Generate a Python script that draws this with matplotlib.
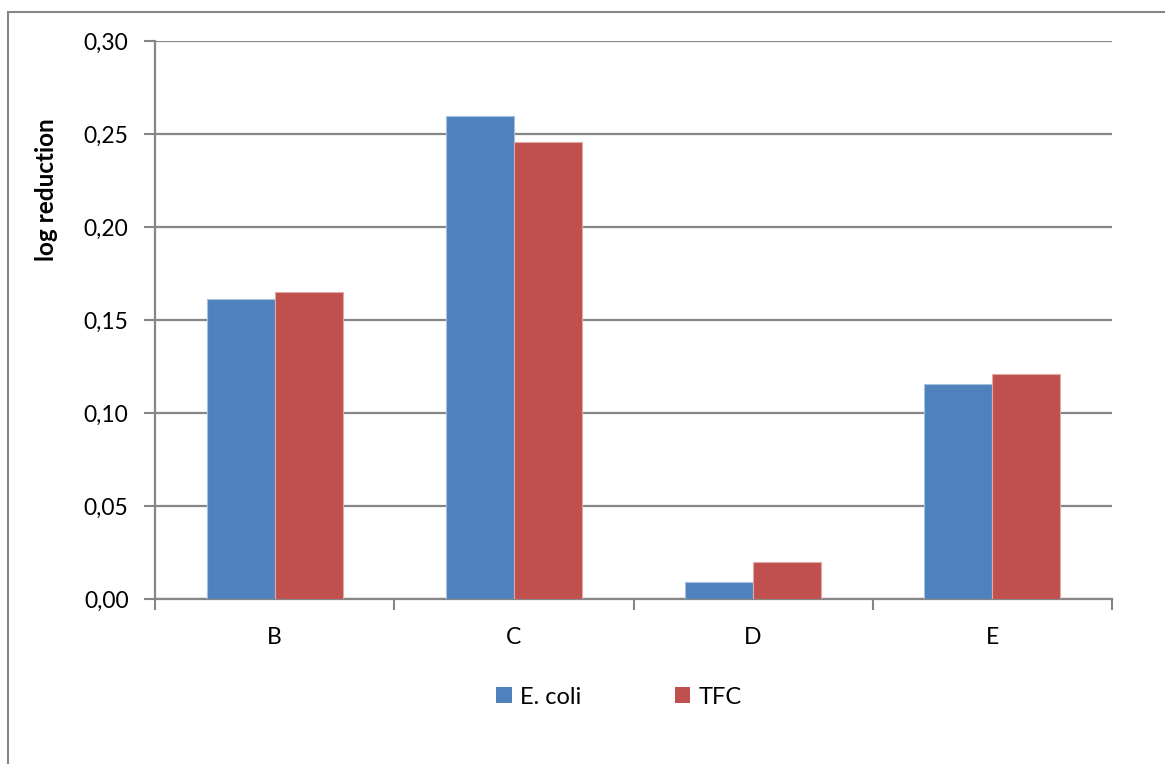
import matplotlib
matplotlib.use("Agg")
import matplotlib.pyplot as plt
import numpy as np
from matplotlib.patches import Rectangle, Patch
from matplotlib.ticker import FixedLocator, FuncFormatter

categories = ["B", "C", "D", "E"]
series_names = ["E. coli", "TFC"]
ecoli = [0.1616, 0.2597, 0.0093, 0.1156]
tfc = [0.1652, 0.2460, 0.0202, 0.1210]
yticks = [0.00, 0.05, 0.10, 0.15, 0.20, 0.25, 0.30]
colors = ["#4F81BD", "#C0504D"]
edgecolors = ["#A7C0DE", "#DFA9A7"]

plt.rcParams['font.family'] = ['Lato', 'DejaVu Sans']
W, H = 1165, 764
fig = plt.figure(figsize=(W / 100, H / 100), dpi=100)
ax = fig.add_axes([155 / W, (H - 599.3) / H, (1112 - 155) / W, (599.3 - 41.3) / H])

grid_c = "#868686"
x = np.arange(len(categories))
w = 0.284
for vals, xo, c, ec, name in zip([ecoli, tfc], [-w / 2, w / 2], colors, edgecolors, series_names):
    ax.bar(x + xo, vals, width=w, color=c, edgecolor=ec, linewidth=0.8, zorder=3, label=name)

ax.set_xlim(-0.5, len(categories) - 0.5)
ax.set_ylim(0, 0.30)
ax.set_yticks(yticks)
ax.yaxis.set_major_formatter(FuncFormatter(lambda v, p: f"{v:.2f}".replace(".", ",")))
ax.yaxis.grid(True, color=grid_c, linewidth=1.6, zorder=0)
ax.set_axisbelow(True)

ax.set_xticks(x)
ax.set_xticklabels(categories)
ax.xaxis.set_minor_locator(FixedLocator(np.arange(-0.5, len(categories), 1.0)))
ax.tick_params(axis='x', which='major', length=0, pad=20, labelsize=16.5, colors='black')
ax.tick_params(axis='x', which='minor', length=8, width=1.5, color=grid_c, direction='out')
ax.tick_params(axis='y', length=8, width=1.5, color=grid_c, direction='out', pad=11, labelsize=16.5, labelcolor='black')

for s in ['top', 'right']:
    ax.spines[s].set_visible(False)
for s in ['left', 'bottom']:
    ax.spines[s].set_color(grid_c)
    ax.spines[s].set_linewidth(1.6)

fig.text(46 / W, (H - 190) / H, "log reduction", rotation=90, ha='center', va='center',
         fontsize=17.5, fontweight='bold')

handles = [Patch(facecolor=c, edgecolor='none') for c in colors]
fig.legend(handles, series_names, loc='center', bbox_to_anchor=(619 / W, (H - 697) / H),
           ncol=2, frameon=False, fontsize=17, handlelength=0.64, handleheight=0.64,
           handletextpad=0.34, columnspacing=4.0)

fig.patches.append(Rectangle((8 / W, -0.1), 1.2, (H - 11.5) / H + 0.1, transform=fig.transFigure,
                             fill=False, edgecolor=grid_c, linewidth=1.5))

fig.savefig("out.png", dpi=100)
